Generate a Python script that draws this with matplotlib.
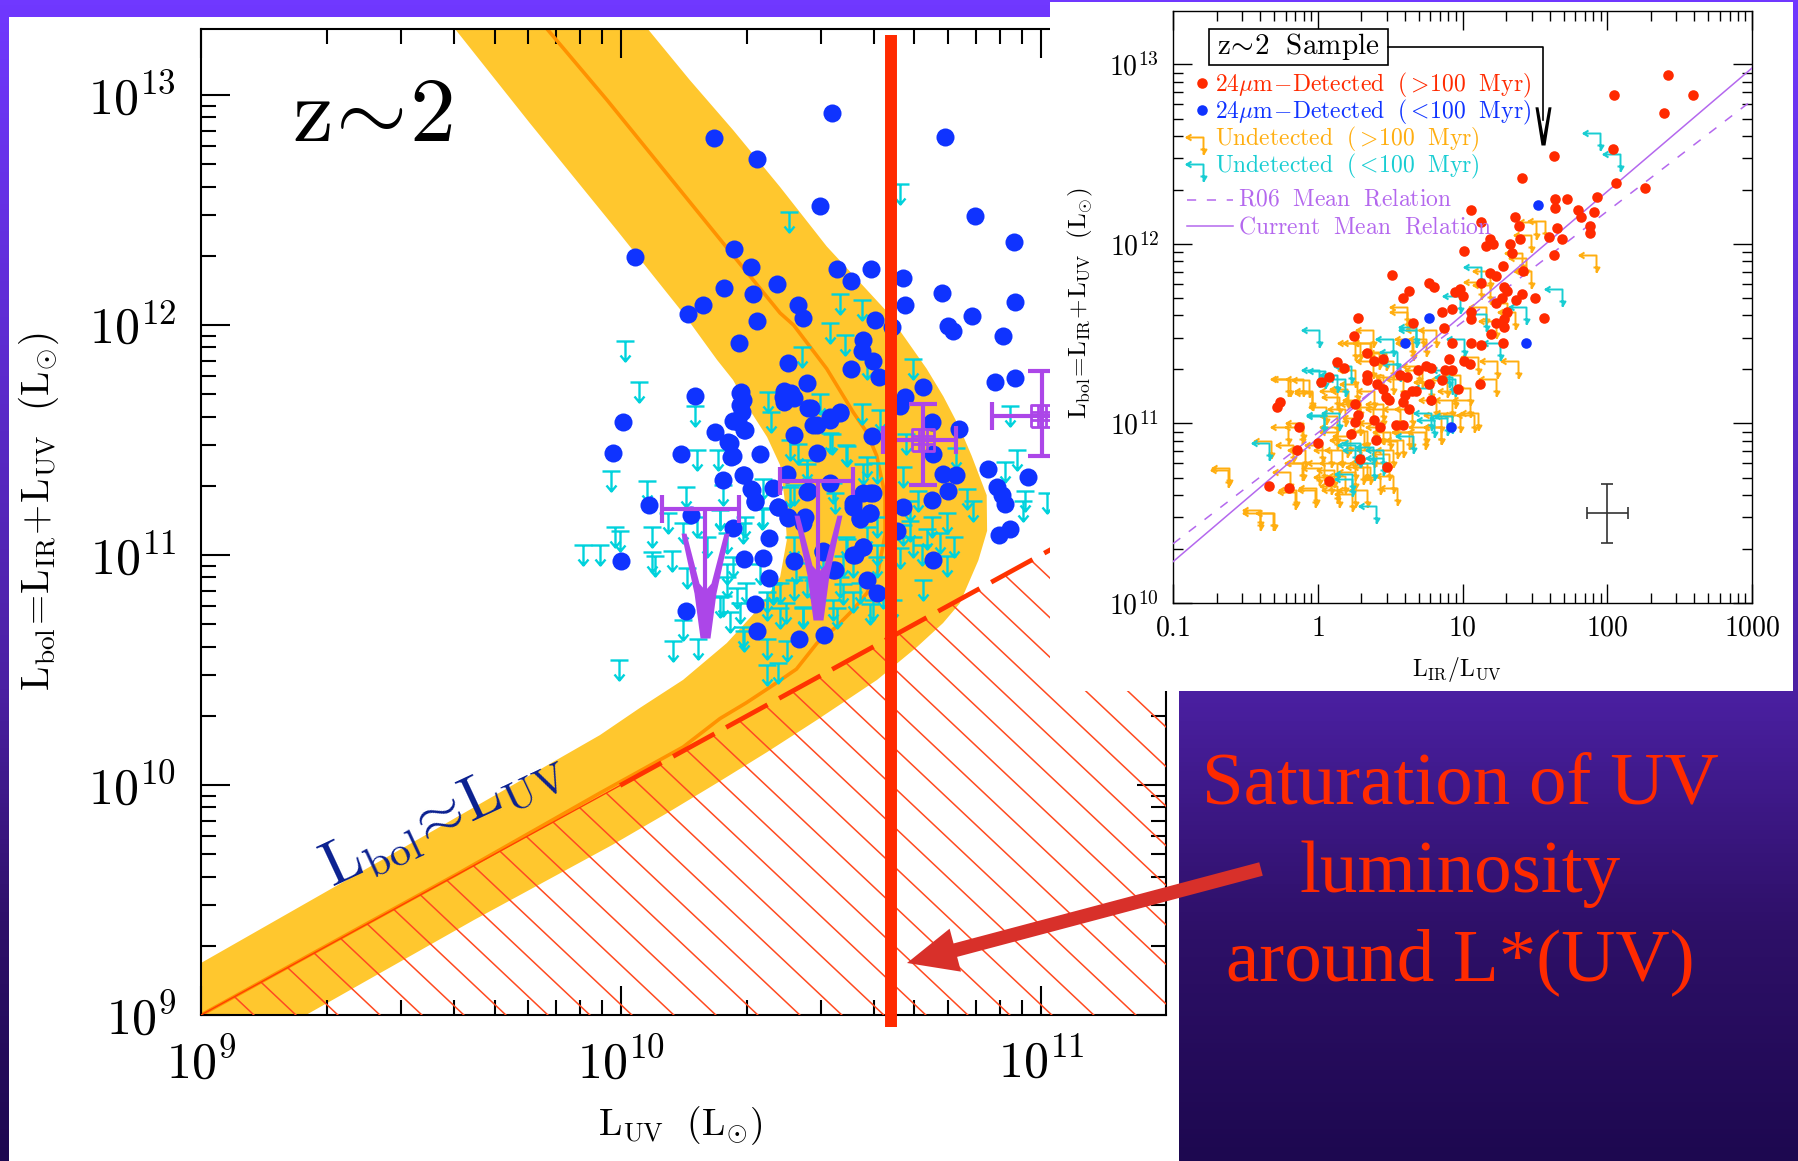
import numpy as np
import matplotlib
matplotlib.use("Agg")
import matplotlib.pyplot as plt
from matplotlib.path import Path
from matplotlib.patches import Polygon, Rectangle
from matplotlib.colors import LinearSegmentedColormap
from matplotlib.ticker import LogLocator, NullFormatter

plt.rcParams['mathtext.fontset'] = 'cm'
plt.rcParams['font.family'] = ['Liberation Serif', 'DejaVu Serif']

# ---- left panel, log10 values
blue_logx = [10.503,10.222,10.325,10.772,10.474,10.843,10.937,10.034,10.269,10.310,10.514,10.547,10.595,10.671,10.676,10.372,10.245,10.314,10.196,10.159,10.422,10.434,10.325,10.282,10.606,10.645,10.765,10.835,10.938,10.780,10.790,10.909,10.576,10.573,10.549,10.601,10.615,10.399,10.720,10.890,10.938,10.676,10.665,10.177,10.286,10.290,10.388,10.388,10.411,10.444,10.452,10.522,10.498,10.458,10.288,10.268,10.293,10.004,10.223,10.411,10.256,10.266,10.142,9.982,10.330,10.468,10.599,10.744,10.806,10.740,10.395,10.293,10.244,10.309,10.319,10.363,10.874,10.970,10.896,10.907,10.915,10.768,10.799,10.780,10.740,10.593,10.446,10.553,10.068,10.166,10.374,10.399,10.438,10.569,10.593,10.672,10.268,10.353,10.926,10.901,10.657,9.999,10.292,10.338,10.411,10.482,10.577,10.553,10.742,10.510,10.353,10.585,10.609,10.319,10.154,10.325,10.425,10.484,
             10.283,10.283,10.279,10.295,10.260,10.263,10.291,10.311,10.319,10.375,10.398,10.434,10.387,10.406,10.446,10.498,10.466,10.521,10.577,10.601,10.553,10.569,10.593,10.577,10.557,10.498,10.442,10.506,10.482]
blue_logy = [12.923,12.813,12.720,12.818,12.518,12.476,12.359,12.294,12.329,12.253,12.243,12.191,12.243,12.205,12.085,12.177,12.162,12.133,12.088,12.050,12.085,12.030,12.019,11.923,12.023,11.992,12.141,12.038,12.100,11.995,11.973,11.951,11.933,11.887,11.810,11.844,11.775,11.835,11.732,11.753,11.770,11.689,11.646,11.693,11.707,11.672,11.715,11.664,11.681,11.749,11.638,11.621,11.586,11.566,11.621,11.583,11.543,11.578,11.535,11.521,11.492,11.432,11.440,11.444,11.440,11.444,11.518,11.440,11.548,11.578,11.354,11.346,11.325,11.286,11.234,11.291,11.373,11.337,11.294,11.260,11.222,11.354,11.346,11.277,11.239,11.268,11.277,11.225,11.217,11.174,11.208,11.160,11.165,11.157,11.182,11.208,11.119,11.076,11.114,11.088,11.105,10.973,10.981,10.985,10.976,11.019,11.036,10.999,10.980,10.933,10.899,10.890,10.835,10.787,10.756,10.670,10.636,10.653,
             11.703,11.652,11.580,11.544,11.486,11.428,11.348,11.283,11.232,11.210,11.167,11.138,11.689,11.703,11.638,11.602,11.565,11.616,11.268,11.268,11.210,11.160,11.181,11.036,11.000,11.312,11.275,10.935,11.015]

cyan_logx = [10.400,10.665,10.010,10.044,10.176,10.522,10.573,10.499,10.534,10.430,10.695,10.585,10.351,10.357,10.474,10.573,10.617,10.422,10.502,10.538,10.926,10.180,10.232,9.976,10.061,10.155,10.942,10.915,10.962,10.958,11.014,10.680,10.799,10.442,10.577,10.672,10.339,10.244,10.411,10.510,10.823,10.839,10.708,9.986,9.998,10.073,10.113,10.149,9.909,9.949,10.073,10.081,10.121,10.295,10.335,10.236,10.204,10.252,10.740,10.776,10.688,10.716,10.776,10.720,10.157,10.252,10.411,10.538,10.530,10.609,10.665,10.276,10.244,10.363,10.411,10.458,10.530,10.593,10.434,10.347,10.260,10.292,10.347,10.395,10.149,10.125,10.184,9.996,10.347,10.375,10.514,10.553,10.649,10.625,10.379,10.331,
             10.402,10.442,10.498,10.537,10.585,10.609,10.506,10.402,10.537,10.585,10.609,10.553,10.521,10.569,10.609,10.601,10.506,10.434,10.379,10.347,10.394,10.299,10.252,10.236,10.283,10.267,10.291,10.339,10.236,10.180,10.418,10.442,10.482,10.363,10.291,10.688,10.728,10.760,10.792,10.696,10.672]
cyan_logy = [12.449,12.571,11.887,11.707,11.603,12.093,12.067,11.964,11.913,11.861,11.810,11.810,11.664,11.578,11.655,11.612,11.586,11.440,11.483,11.432,11.603,11.414,11.414,11.320,11.277,11.251,11.414,11.363,11.234,11.191,11.225,11.483,11.423,11.354,11.354,11.337,11.286,11.260,11.260,11.225,11.243,11.191,11.234,11.079,11.062,11.079,11.140,11.097,11.002,11.002,10.968,10.951,10.976,11.122,11.157,11.157,11.036,11.054,11.122,11.140,11.105,11.002,10.951,10.847,10.899,10.916,11.036,11.028,10.951,11.002,10.985,10.813,10.779,10.830,10.847,10.847,10.830,10.744,10.727,10.796,10.710,10.624,10.590,10.581,10.676,10.581,10.590,10.500,10.478,10.487,10.727,10.796,10.762,10.813,10.727,10.916,
             11.457,11.370,11.486,11.435,11.384,11.355,11.268,11.254,11.036,11.080,11.123,10.949,10.862,10.833,10.949,10.761,10.761,10.732,10.833,10.761,10.747,10.833,10.862,10.775,10.747,10.949,11.094,11.160,11.152,11.123,10.920,10.862,10.978,10.833,10.645,11.191,11.071,11.054,11.036,11.036,11.088]

# median detections / limits
cross_logx = [10.720, 11.002]
cross_logy = [11.500, 11.603]
cross_xlo = [10.625, 10.883]
cross_xhi = [10.799, 11.120]
cross_ylo = [11.303, 11.432]
cross_yhi = [11.655, 11.801]
limit_logx = [10.200, 10.470]
limit_logy = [11.200, 11.320]
limit_xlo = [10.097, 10.379]
limit_xhi = [10.280, 10.553]
limit_tip = [10.641, 10.718]

# dust track and its envelope
track_logx = [9.0,9.25,9.614,9.95,10.148,10.236,10.299,10.363,10.418,10.467,10.514,10.553,10.586,10.613,10.629,10.629,10.609,10.585,10.553,10.490,10.411,10.379,10.243,9.967,9.826]
track_logy = [9.0,9.252,9.617,9.965,10.165,10.289,10.358,10.435,10.504,10.617,10.690,10.762,10.835,10.933,11.088,11.260,11.432,11.535,11.621,11.810,12.0,12.052,12.357,12.978,13.283]
band_logx = [9.25,9.65,9.979,10.110,10.229,10.348,10.467,10.610,10.705,10.767,10.807,10.851,10.872,10.871,10.835,10.807,10.768,10.728,10.629,10.490,10.379,10.267,10.164,10.064,9.605,9.783,9.990,10.148,10.229,10.267,10.307,10.348,10.379,10.390,10.395,10.379,10.331,10.252,10.148,10.045,9.95,9.543,9.0,9.0]
band_logy = [9.0,9.413,9.739,9.878,10.009,10.143,10.283,10.457,10.600,10.704,10.790,10.976,11.105,11.260,11.432,11.552,11.689,11.810,12.067,12.342,12.600,12.848,13.065,13.287,13.287,12.878,12.413,12.052,11.848,11.761,11.630,11.513,11.391,11.239,11.065,10.904,10.774,10.617,10.457,10.335,10.217,9.791,9.226,9.0]

# ---- inset, log10 values
red_logx = [2.42,2.05,2.59,2.39,2.04,1.63,1.41,2.06,2.26,1.64,1.72,1.93,1.64,1.80,1.06,1.91,1.36,1.82,1.13,1.39,1.65,1.88,1.88,1.60,1.69,1.40,1.19,1.21,1.16,1.33,1.01,1.34,1.63,1.28,1.42,1.19,1.23,0.51,0.77,0.80,1.13,0.98,0.95,1.00,1.29,1.31,0.63,0.59,1.50,1.41,1.37,1.27,1.23,0.86,0.93,1.06,0.28,1.56,0.66,1.31,1.29,1.23,1.29,1.06,0.87,1.20,0.25,0.93,1.06,1.13,1.28,0.34,0.91,0.13,0.39,0.45,1.01,1.05,0.18,0.69,0.75,0.78,0.88,0.93,0.57,0.62,0.08,0.02,0.34,0.34,0.86,0.77,1.12,0.41,0.45,0.47,0.49,0.65,0.68,0.60,0.97,0.78,0.59,0.26,-0.26,-0.28,0.63,0.28,0.26,0.39,0.54,0.59,0.43,-0.13,0.23,0.40,0.00,-0.14,0.29,0.48,0.08,-0.34,-0.20]
red_logy = [12.94,12.83,12.83,12.73,12.53,12.49,12.37,12.34,12.31,12.25,12.25,12.26,12.20,12.19,12.19,12.18,12.15,12.15,12.12,12.10,12.09,12.10,12.06,12.04,12.03,12.03,12.03,12.00,11.99,12.00,11.96,11.95,11.94,11.88,11.85,11.84,11.82,11.83,11.78,11.76,11.78,11.75,11.73,11.71,11.76,11.74,11.74,11.70,11.70,11.72,11.69,11.70,11.67,11.62,11.64,11.62,11.59,11.59,11.56,11.62,11.58,11.56,11.54,11.58,11.53,11.50,11.49,11.45,11.45,11.44,11.45,11.39,11.36,11.34,11.35,11.36,11.35,11.33,11.31,11.30,11.32,11.31,11.30,11.30,11.27,11.26,11.26,11.23,11.27,11.24,11.24,11.22,11.22,11.22,11.19,11.15,11.13,11.18,11.18,11.16,11.19,11.13,11.12,11.11,11.12,11.09,11.08,11.05,11.01,11.02,10.99,10.99,10.98,10.98,10.94,10.91,10.89,10.85,10.80,10.76,10.68,10.65,10.64]
young_logx = [1.52,0.77,0.60,1.44,0.92]
young_logy = [12.22,11.59,11.45,11.45,10.98]
old_lim_logx = [-0.61,-0.40,-0.30,-0.32,-0.17,-0.19,-0.06,-0.04,-0.11,-0.09,-0.15,-0.01,-0.19,-0.11,0.13,0.26,0.34,0.13,0.26,0.34,0.49,0.55,0.13,0.21,0.29,0.39,0.19,0.29,0.13,0.22,0.32,0.45,0.55,0.65,0.75,0.85,0.98,1.08,1.11,1.05,0.95,0.78,0.72,0.59,0.52,0.42,0.26,0.36,0.26,0.45,0.65,0.62,0.75,0.82,1.11,1.24,1.38,1.23,0.98,1.05,0.93,0.85,0.65,0.57,0.45,0.39,0.49,0.26,0.17,0.09,0.03,0.01,0.09,0.19,0.52,1.51,1.57,1.47,1.44,1.47,1.41,1.19,1.13,1.19,1.31,1.36,1.23,1.16,1.92,
                -0.205,-0.10,-0.04,-0.205,-0.10,-0.10,-0.16,-0.02,-0.31,-0.40,-0.62,0.37,0.62,0.29,0.38,0.15,0.06,0.20,0.27,0.13,0.27,0.38,0.45,0.13,0.20,0.34,0.40,0.50,0.59,0.74,0.85,0.04,0.11,0.31,0.36,0.43,0.15,0.24,0.52,0.63,0.47,0.52,0.38,0.66,0.73,0.93,0.82,0.70,0.89]
old_lim_logy = [10.75,10.52,10.50,10.90,10.88,11.25,11.24,11.18,10.98,10.85,10.63,10.64,10.73,10.78,10.65,10.63,10.63,10.78,10.78,10.78,10.78,10.64,11.18,11.18,11.13,11.18,11.08,11.03,10.98,10.93,10.95,10.98,10.90,10.95,10.98,10.98,11.05,11.05,11.06,11.13,11.18,11.23,11.30,11.25,11.35,11.40,11.45,11.45,11.30,11.27,11.47,11.62,11.47,11.52,11.37,11.35,11.35,11.25,11.27,11.20,11.13,11.05,11.08,11.08,11.08,10.85,10.83,10.73,10.85,10.85,10.88,10.75,10.70,10.71,10.71,12.12,12.13,12.05,11.92,11.85,11.95,11.85,11.79,11.77,11.67,11.62,11.57,11.65,11.94,
                11.25,11.25,11.17,10.98,11.00,10.78,10.62,10.63,10.50,10.50,10.74,11.45,11.65,11.45,11.52,11.15,11.09,11.19,11.22,11.04,11.11,11.09,11.11,10.95,10.91,10.96,11.00,10.95,10.91,10.95,10.98,10.78,10.74,10.76,10.76,10.70,10.63,10.61,10.85,10.95,11.39,11.26,11.35,11.45,11.52,11.06,11.13,11.32,11.24]
young_lim_logx = [1.95,2.09,1.69,1.13,1.44,0.01,0.68,0.98,0.01,0.13,0.24,0.40,-0.34,0.45,0.39,0.29,0.78,0.93,0.04,0.26,1.01,1.26,0.55,0.91,0.95,0.78,0.19,1.16,
                  0.05,0.23,0.24,0.38,0.45,0.04,0.66,0.52,0.68,0.57,0.89,0.80,0.15,0.29,0.93]
young_lim_logy = [12.62,12.50,11.75,11.87,11.65,11.52,11.54,11.71,11.30,11.27,10.69,10.54,10.89,10.85,10.78,10.85,11.06,11.04,11.05,10.88,11.47,11.45,11.40,11.30,11.25,11.20,11.25,11.61,
                  11.29,11.32,10.72,10.87,10.81,11.04,10.93,11.47,11.52,11.33,11.03,11.02,11.06,10.89,11.26]
relation_logx = [-1.0, 3.0]
current_logy = [10.23, 12.98]
r06_logy = [10.33, 12.80]
err_logx = [2.0]
err_logy = [10.50]

W, H = 1798, 1161
fig = plt.figure(figsize=(W / 100, H / 100), dpi=100)

def px_axes(x0, y0, x1, y1, z):
    return fig.add_axes([x0 / W, 1 - y1 / H, (x1 - x0) / W, (y1 - y0) / H], zorder=z)

# purple slide background with the white panels on it
bg = px_axes(0, 0, W, H, 0)
cmap = LinearSegmentedColormap.from_list("slide", [(0, "#7038ff"), (0.595, "#4b20a2"), (0.8, "#2e1068"), (1, "#1d0850")])
bg.imshow(np.linspace(0, 1, 256)[:, None], cmap=cmap, extent=[0, W, H, 0], aspect="auto")
bg.add_patch(Rectangle((9, 17), 1170, H - 17, color="white", lw=0))
bg.set_xlim(0, W)
bg.set_ylim(H, 0)
bg.axis("off")


def style_log(a, major, minor, lw, labelsize):
    a.set_xscale("log")
    a.set_yscale("log")
    a.xaxis.set_minor_locator(LogLocator(base=10, subs=range(2, 10), numticks=30))
    a.yaxis.set_minor_locator(LogLocator(base=10, subs=range(2, 10), numticks=30))
    a.xaxis.set_minor_formatter(NullFormatter())
    a.yaxis.set_minor_formatter(NullFormatter())
    a.tick_params(which="major", direction="in", length=major, width=lw, top=True, right=True, labelsize=labelsize)
    a.tick_params(which="minor", direction="in", length=minor, width=lw, top=True, right=True)
    for s in a.spines.values():
        s.set_linewidth(lw)


# ---- main panel
ax = px_axes(201, 29, 1166, 1015, 1)
style_log(ax, 21, 11, 1.5, 36)
ax.set_xlim(1e9, 10 ** 11.298)
ax.set_ylim(1e9, 10 ** 13.287)
ax.set_xticks([1e9, 1e10, 1e11], [r"$10^{9}$", r"$10^{10}$", r"$10^{11}$"])
ax.set_yticks([1e9, 1e10, 1e11, 1e12, 1e13], [r"$10^{9}$", r"$10^{10}$", r"$10^{11}$", r"$10^{12}$", r"$10^{13}$"])
ax.tick_params(axis="x", which="major", pad=18)
ax.tick_params(axis="y", which="major", pad=18)
ax.set_xlabel(r"$\mathrm{L_{UV}\ \ (L_{\odot})}$", fontsize=27)
ax.xaxis.set_label_coords(0.497, -0.09)
ax.set_ylabel(r"$\mathrm{L_{bol}\!=\!L_{IR}\!+\!L_{UV}\ \ (L_{\odot})}$", fontsize=28)
ax.yaxis.set_label_coords(-0.145, 0.51)

ax.fill(10 ** np.array(band_logx), 10 ** np.array(band_logy), color="#ffc72e", lw=0, zorder=1)
ax.plot(10 ** np.array(track_logx), 10 ** np.array(track_logy), color="#ff9200", lw=2.6, zorder=2)

# hatched forbidden region below Lbol = LUV
clip = Polygon([(1e9, 1e9), (10 ** 11.298, 10 ** 11.298), (10 ** 11.298, 1e9)], transform=ax.transData)
for x0 in np.arange(9.126, 12.7, 0.1):
    hx = np.array([7.5, x0])
    line, = ax.plot(10 ** hx, 10 ** (9 + (x0 - hx) * 1.72), color="#ff4a20", lw=1.1, zorder=3)
    line.set_clip_path(clip)

ax.plot([1e9, 10 ** 9.998], [1e9, 10 ** 9.998], color="#ff4000", lw=1.0, zorder=3)
ax.plot([10 ** 9.998, 10 ** 11.298], [10 ** 9.998, 10 ** 11.298], color="#ff3300", lw=3.4,
        dashes=(10, 2.8), zorder=3)

t_arrow = Path([(-9, 10), (9, 10), (0, 10), (0, -10), (-5, -4), (0, -10), (5, -4)],
               [Path.MOVETO, Path.LINETO, Path.MOVETO, Path.LINETO, Path.MOVETO, Path.LINETO, Path.LINETO])
ax.plot(10 ** np.array(cyan_logx), 10 ** np.array(cyan_logy), ls="none", marker=t_arrow, ms=14.4,
        mfc="none", mec="#00d2dc", mew=1.7, zorder=4)
ax.plot(10 ** np.array(blue_logx), 10 ** np.array(blue_logy), ls="none", marker="o", ms=13,
        color="#0f33ff", mew=0, zorder=5)

# purple stacks
purple = "#ac46e8"
cx = 10 ** np.array(cross_logx)
cy = 10 ** np.array(cross_logy)
ax.errorbar(cx, cy, xerr=[cx - 10 ** np.array(cross_xlo), 10 ** np.array(cross_xhi) - cx],
            yerr=[cy - 10 ** np.array(cross_ylo), 10 ** np.array(cross_yhi) - cy],
            ls="none", ecolor=purple, elinewidth=3, capsize=10, capthick=3, zorder=6)
grid3 = Path([(-3, -3), (3, -3), (3, 3), (-3, 3), (-3, -3), (-3, -1), (3, -1), (-3, 1), (3, 1), (-1, -3), (-1, 3), (1, -3), (1, 3)],
             [1, 2, 2, 2, 2, 1, 2, 1, 2, 1, 2, 1, 2])
ax.plot(cx, cy, ls="none", marker=grid3, ms=16, mfc="none", mec=purple, mew=2, zorder=6)
lx = 10 ** np.array(limit_logx)
ly = 10 ** np.array(limit_logy)
ltip = 10 ** np.array(limit_tip)
ax.errorbar(lx, ly, xerr=[lx - 10 ** np.array(limit_xlo), 10 ** np.array(limit_xhi) - lx],
            ls="none", ecolor=purple, elinewidth=3, capsize=10, capthick=3, zorder=6)
ax.vlines(lx, ltip, ly, color=purple, lw=3, zorder=6)
vee = Path([(-5, 0), (5, 0), (11, 45), (24, 105), (19, 105), (6, 55), (0, 48), (-6, 55), (-19, 105), (-24, 105), (-11, 45), (-5, 0)])
ax.plot(lx, ltip, ls="none", marker=vee, ms=151, color=purple, mew=0, zorder=6)

# saturation marker
ax.plot([10 ** 10.643, 10 ** 10.643], [10 ** 8.948, 10 ** 13.26], color="#ff2a00", lw=8.6,
        solid_capstyle="butt", clip_on=False, zorder=7)

ax.text(0.177, 0.909, r"$\mathrm{z\!\sim\!2}$", transform=ax.transAxes, fontsize=66, ha="center", va="center")
ax.text(0.25, 0.2, r"$\mathrm{L_{bol}\!\approx\! L_{UV}}$", transform=ax.transAxes, fontsize=44,
        color="#0a2090", rotation=25, ha="center", va="center")

# ---- white panel and inset
cover = px_axes(1050, 2, 1793, 691, 2)
cover.set_xticks([])
cover.set_yticks([])
for s in cover.spines.values():
    s.set_visible(False)

ins = px_axes(1173, 11, 1752, 603, 3)
style_log(ins, 14, 7, 1.0, 20)
ins.set_xlim(0.1, 1000)
ins.set_ylim(1e10, 10 ** 13.298)
ins.set_xticks([0.1, 1, 10, 100, 1000], [r"$0.1$", r"$1$", r"$10$", r"$100$", r"$1000$"])
ins.set_yticks([1e10, 1e11, 1e12, 1e13], [r"$10^{10}$", r"$10^{11}$", r"$10^{12}$", r"$10^{13}$"])
ins.tick_params(axis="x", which="major", pad=10)
ins.tick_params(axis="y", which="major", pad=10)
ins.set_xlabel(r"$\mathrm{L_{IR}/L_{UV}}$", fontsize=17)
ins.xaxis.set_label_coords(0.49, -0.088)
ins.set_ylabel(r"$\mathrm{L_{bol}\!=\!L_{IR}\!+\!L_{UV}\ \ (L_{\odot})}$", fontsize=18)
ins.yaxis.set_label_coords(-0.135, 0.506)

corner = Path([(-17, 0), (0, 0), (0, -17), (-3, -12), (3, -12), (0, -17), (-12, 3), (-17, 0), (-12, -3)],
              [1, 2, 2, 1, 2, 2, 1, 2, 2])
orange = "#ffae10"
teal = "#18cdd2"
lilac = "#b468ee"
ins.plot(10 ** np.array(old_lim_logx), 10 ** np.array(old_lim_logy), ls="none", marker=corner, ms=24.5,
         mfc="none", mec=orange, mew=1.4, zorder=2)
ins.plot(10 ** np.array(young_lim_logx), 10 ** np.array(young_lim_logy), ls="none", marker=corner, ms=24.5,
         mfc="none", mec=teal, mew=1.4, zorder=2)
ins.plot(10 ** np.array(relation_logx), 10 ** np.array(current_logy), color=lilac, lw=1.1, zorder=3)
ins.plot(10 ** np.array(relation_logx), 10 ** np.array(r06_logy), color=lilac, lw=1.1, dashes=(6, 7), zorder=3)
ins.plot(10 ** np.array(red_logx), 10 ** np.array(red_logy), ls="none", marker="o", ms=7.6, color="#ff2a00", mew=0, zorder=4)
ins.plot(10 ** np.array(young_logx), 10 ** np.array(young_logy), ls="none", marker="o", ms=7.6, color="#0f33ff", mew=0, zorder=4)
ex = np.array(err_logx)
ey = np.array(err_logy)
ins.errorbar(10 ** ex, 10 ** ey, xerr=[10 ** ex - 10 ** (ex - 0.14), 10 ** (ex + 0.14) - 10 ** ex],
             yerr=[10 ** ey - 10 ** (ey - 0.165), 10 ** (ey + 0.165) - 10 ** ey],
             ls="none", ecolor="#333333", elinewidth=1.2, capsize=4, capthick=1.2, zorder=4)

# ---- overlay in pixel coordinates: inset legend, callout, caption
top = px_axes(0, 0, W, H, 4)
top.set_xlim(0, W)
top.set_ylim(H, 0)
top.axis("off")
top.patch.set_alpha(0)

top.add_patch(Rectangle((1209, 29), 179, 36, fc="white", ec="black", lw=1.2, zorder=5))
top.text(1298, 47, r"$\mathrm{z\!\sim\!2\ \ Sample}$", fontsize=21, ha="center", va="center", zorder=6)
top.plot([1388, 1543, 1543], [47, 47, 120], color="black", lw=1.2, zorder=5)
v_small = Path([(-2, 0), (2, 0), (8, 38), (5, 38), (0, 10), (-5, 38), (-8, 38), (-2, 0)])
top.plot([1543], [145], marker=v_small, ms=55, color="black", mew=0, zorder=5)

legend_text = [r"$\mathrm{24\mu m\!-\!Detected\ \ (>\!100\ \ Myr)}$",
               r"$\mathrm{24\mu m\!-\!Detected\ \ (<\!100\ \ Myr)}$",
               r"$\mathrm{Undetected\ \ (>\!100\ \ Myr)}$",
               r"$\mathrm{Undetected\ \ (<\!100\ \ Myr)}$"]
legend_color = ["#ff2a00", "#0f33ff", orange, teal]
legend_y = [85, 112, 139, 166]
for s, c, y in zip(legend_text, legend_color, legend_y):
    top.text(1215, y, s, color=c, fontsize=17, ha="left", va="center")
top.plot([1202], [83], marker="o", ms=7.6, color="#ff2a00", mew=0)
top.plot([1202], [110], marker="o", ms=7.6, color="#0f33ff", mew=0)
top.plot([1203], [137], marker=corner, ms=24.5, mfc="none", mec=orange, mew=1.4)
top.plot([1203], [164], marker=corner, ms=24.5, mfc="none", mec=teal, mew=1.4)
top.plot([1187, 1233], [200, 200], color=lilac, lw=1.1, dashes=(6, 7))
top.plot([1187, 1233], [226, 226], color=lilac, lw=1.1)
top.text(1238, 200, r"$\mathrm{R06\ \ Mean\ \ Relation}$", color=lilac, fontsize=17, ha="left", va="center")
top.text(1238, 227, r"$\mathrm{Current\ \ Mean\ \ Relation}$", color=lilac, fontsize=17, ha="left", va="center")

top.text(1460, 874, "Saturation of UV\nluminosity\naround L*(UV)", color="#ff2a00", fontsize=54,
         ha="center", va="center", linespacing=1.4)
top.annotate("", xy=(907, 963), xytext=(1261, 869),
             arrowprops=dict(width=10, headwidth=32, headlength=36, shrink=0, color="#d8302a", lw=0))

fig.savefig("out.png", dpi=100)
